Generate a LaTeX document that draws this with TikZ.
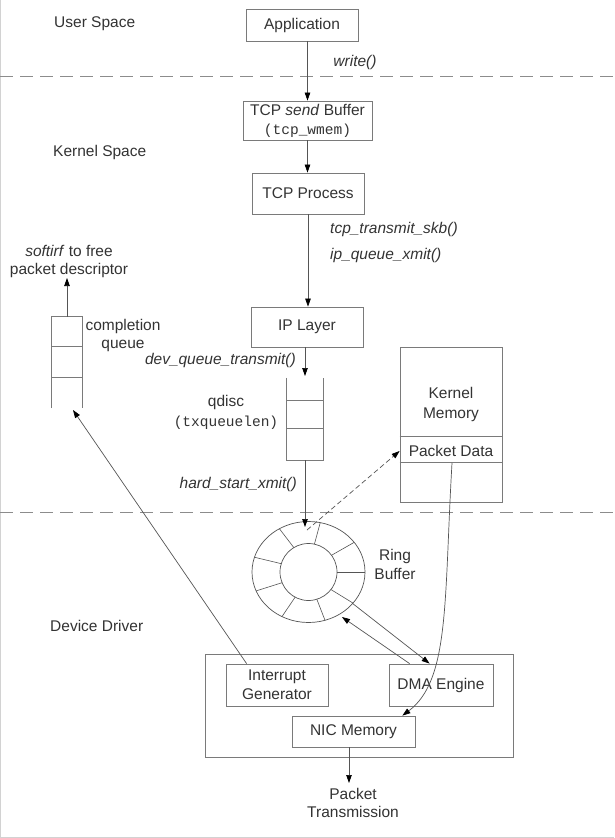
\documentclass[tikz,border=0pt]{standalone}
\usepackage{fontspec}
\setmainfont{Liberation Sans}
\setmonofont{Liberation Mono}
\usetikzlibrary{arrows.meta,calc,shapes.geometric}
\definecolor{txt}{HTML}{333333}
\definecolor{ln}{HTML}{555555}
\definecolor{bx}{HTML}{7A7A7A}
\definecolor{dsh}{HTML}{8C8C8C}
\begin{document}
\begin{tikzpicture}[x=1pt,y=-1pt,
  font=\fontsize{15.5}{19}\selectfont, text=txt,
  box/.style={draw=bx, line width=0.8pt, rectangle, inner sep=0pt, align=center},
  conn/.style={draw=ln, line width=0.7pt},
  arr/.style={conn, -{Triangle[length=8pt,width=5.5pt,color=black]}},
  lbl/.style={inner sep=0pt, align=center},
  fn/.style={lbl, font=\fontsize{15.5}{19}\selectfont\itshape},
  qline/.style={draw=bx, line width=0.8pt},
  sep/.style={draw=dsh, line width=1pt, dash pattern=on 13pt off 7pt}]
\useasboundingbox (0,0) rectangle (614,838);
\fill[white] (0,0) rectangle (614,838);
\draw[gray!35, line width=1pt] (0.5,0) -- (0.5,837.5) -- (614,837.5);
% separators
\draw[sep] (0,76) -- (614,76);
\draw[sep] (0,512) -- (614,512);
% region labels
\node[lbl, anchor=west] (us) at (54,24) {User Space};
\node[lbl, anchor=west] (ks) at (53,152) {Kernel Space};
\node[lbl, anchor=west] (dd) at (50,626) {Device Driver};
% main stack
\node[box, minimum width=112pt, minimum height=32pt] (app) at (302,25) {Application};
\node[box, minimum width=129pt, minimum height=39pt] (tcpbuf) at (307.5,120.5) {TCP \textit{send} Buffer\\{\fontsize{14.5}{19}\selectfont\ttfamily (tcp\_wmem)}};
\node[box, minimum width=112pt, minimum height=41pt] (tcpp) at (308,193.5) {TCP Process};
\node[box, minimum width=112pt, minimum height=40pt] (ip) at (307,327) {IP Layer};
\draw[arr] (tcpbuf.north |- app.south) -- (tcpbuf.north);
\draw[arr] (tcpbuf.south) -- (tcpbuf.south |- tcpp.north);
\draw[arr] (tcpp.south) -- (tcpp.south |- ip.north);
\node[fn] (wr) at (355,62) {write()};
\node[fn, anchor=west] (tts) at (330,229) {tcp\_transmit\_skb()};
\node[fn, anchor=west] (iqx) at (330,255) {ip\_queue\_xmit()};
% qdisc
\node[inner sep=0pt, minimum width=36pt, minimum height=82pt] (qd) at (305,419) {};
\draw[qline] (qd.north west) -- (qd.south west) -- (qd.south east) -- (qd.north east);
\draw[qline] ($(qd.north west)+(0,23)$) -- ($(qd.north east)+(0,23)$);
\draw[qline] ($(qd.north west)+(0,51)$) -- ($(qd.north east)+(0,51)$);
\coordinate (qdtop) at (305,376);
\draw[arr] (ip.south -| qdtop) -- (qdtop);
\node[fn, anchor=east] (dqt) at (296,360) {dev\_queue\_transmit()};
\node[lbl, font=\fontsize{15.5}{20}\selectfont] (qdl) at (226,412) {qdisc\\{\fontsize{14.5}{20}\selectfont\ttfamily(txqueuelen)}};
\node[fn, anchor=east] (hsx) at (297,484) {hard\_start\_xmit()};
% ring buffer
\node[ellipse, draw=ln, line width=0.7pt, minimum width=113pt, minimum height=101pt, inner sep=0pt] (ring) at (308.5,572) {};
\draw[ln, line width=0.7pt] (ring.center) circle[radius=28.5pt];
\foreach \a in {0,36,78,121,163,202,242,287,322}
  \draw[ln, line width=0.6pt] ($(ring.center)+(\a:28.5pt)$) -- ($(ring.center)+(\a:56.5pt and 50.5pt)$);
\coordinate (ringin) at (305,527);
\draw[arr] (qd.south) -- (ringin);
\node[lbl] (rbl) at (395,564) {Ring\\Buffer};
% kernel memory
\node[box, minimum width=102pt, minimum height=155pt] (kmem) at (451,424.5) {};
\draw[qline] ($(kmem.north west)+(0,90)$) -- ($(kmem.north east)+(0,90)$);
\draw[qline] ($(kmem.north west)+(0,116)$) -- ($(kmem.north east)+(0,116)$);
\node[lbl, font=\fontsize{15.5}{20}\selectfont] (kml) at (451,404) {Kernel\\Memory};
\node[lbl] (pdata) at (451,451) {Packet Data};
\coordinate (dstart) at (307,530);
\draw[arr, dash pattern=on 5pt off 3pt] (dstart) -- (kmem.west |- pdata.center);
% device
\node[box, minimum width=308pt, minimum height=103pt] (dev) at (359,705.5) {};
\node[box, minimum width=102pt, minimum height=42pt] (intr) at (277,685) {Interrupt\\Generator};
\node[box, minimum width=104pt, minimum height=42pt] (dma) at (441,685) {DMA Engine};
\node[box, minimum width=123pt, minimum height=31pt] (nic) at (353.5,731.5) {NIC Memory};
\node[lbl, font=\fontsize{15.5}{18}\selectfont] (ptx) at (353,803) {Packet\\Transmission};
\coordinate (ptxtop) at (349,783);
\draw[arr] (nic.south -| ptxtop) -- (ptxtop);
% ring <-> DMA
\coordinate (r1) at (342,617);
\coordinate (r2) at (352,603);
\draw[arr] ($(dma.north west)+(21,0)$) -- (r1);
\draw[arr] (r2) -- ($(dma.north west)+(41,0)$);
% packet data -> NIC memory
\coordinate (pdbot) at (452,463);
\draw[arr] (pdbot) .. controls (444,600) and (450,680) .. ($(nic.north east)+(-13,0)$);
% completion queue
\node[inner sep=0pt, minimum width=30pt, minimum height=91pt] (cq) at (67,362.5) {};
\draw[qline] (cq.south west) -- (cq.north west) -- (cq.north east) -- (cq.south east);
\draw[qline] ($(cq.north west)+(0,30)$) -- ($(cq.north east)+(0,30)$);
\draw[qline] ($(cq.north west)+(0,61)$) -- ($(cq.north east)+(0,61)$);
\coordinate (sftop) at (67,278);
\draw[arr] (cq.north) -- (sftop);
\node[lbl, font=\fontsize{15.5}{18}\selectfont] (sfl) at (69,261) {\textit{softirf} to free\\packet descriptor};
\node[lbl, font=\fontsize{15.5}{18}\selectfont] (cql) at (123,335) {completion\\queue};
\coordinate (cqin) at (73,410);
\draw[arr] ($(intr.north west)+(21,0)$) -- (cqin);
\end{tikzpicture}
\end{document}
